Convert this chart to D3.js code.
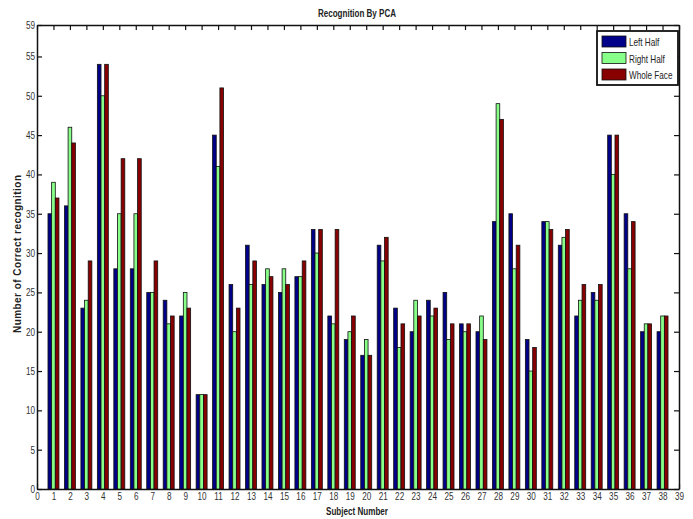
<!DOCTYPE html>
<html>
<head>
<meta charset="utf-8">
<script src="https://cdn.jsdelivr.net/npm/d3@7"></script>
<style>
body { margin: 0; background: #fff; }
text { font-family: "Liberation Sans", Arial, sans-serif; fill: #222; }
</style>
</head>
<body>
<svg id="chart" width="693" height="519"></svg>
<script>
var width = 693, height = 519;

// data
var subjects = d3.range(1, 39);
var leftHalf  = [35,36,23,54,28,28,25,24,22,12,45,26,31,26,25,27,33,22,19,17,31,23,20,24,25,21,20,34,35,19,34,31,22,25,45,35,20,20];
var rightHalf = [39,46,24,50,35,35,25,21,25,12,41,20,26,28,28,27,30,21,20,19,29,18,24,22,19,20,22,49,28,15,34,32,24,24,40,28,21,22];
var wholeFace = [37,44,29,54,42,42,29,22,23,12,51,23,29,27,26,29,33,33,22,17,32,21,22,23,21,21,19,47,31,18,33,33,26,26,45,34,21,22];
var seriesNames = ["Left Half", "Right Half", "Whole Face"];
var seriesColors = ["#000088", "#88ff88", "#880000"];
var xTicks = d3.range(0, 40);
var yTicks = [0,5,10,15,20,25,30,35,40,45,50,55,59];

var svg = d3.select("#chart");

var x = d3.scaleLinear().domain([0, 39]).range([37, 679]);
var y = d3.scaleLinear().domain([0, 59]).range([489, 25]);

var series = [leftHalf, rightHalf, wholeFace];
var bw = 0.222;

// axes (box with inward ticks), under the bars
var tl = 5;
svg.append("g").attr("transform", "translate(0," + y(0) + ")")
.call(d3.axisBottom(x).tickValues(xTicks).tickSizeInner(-tl).tickSizeOuter(0).tickPadding(3));
svg.append("g").attr("transform", "translate(0," + y(59) + ")")
.call(d3.axisTop(x).tickValues(xTicks).tickSizeInner(-tl).tickSizeOuter(0).tickFormat(""));
svg.append("g").attr("transform", "translate(" + x(0) + ",0)")
.call(d3.axisLeft(y).tickValues(yTicks).tickSizeInner(-tl).tickSizeOuter(0).tickPadding(2));
svg.append("g").attr("transform", "translate(" + x(39) + ",0)")
.call(d3.axisRight(y).tickValues(yTicks).tickSizeInner(-tl).tickSizeOuter(0).tickFormat(""));

svg.selectAll(".domain").style("stroke", "#111").style("stroke-width", 1.5);
svg.selectAll(".tick line").style("stroke", "#111").style("stroke-width", 1.2);
svg.selectAll("g").attr("font-family", null).attr("font-size", null);
svg.selectAll(".tick text").attr("font-size", "11px").style("fill", "#333").classed("narrow", true);

// bars
series.forEach(function (vals, k) {
  svg.append("g")
  .selectAll("rect")
  .data(vals)
  .enter().append("rect")
  .attr("x", function (d, i) { return x(subjects[i] + (k - 1.5) * bw); })
  .attr("y", function (d) { return y(d); })
  .attr("width", x(bw) - x(0))
  .attr("height", function (d) { return y(0) - y(d); })
  .style("fill", seriesColors[k])
  .style("stroke", "#111")
  .style("stroke-width", 0.8);
});

// titles
svg.append("text")
.attr("x", 357).attr("y", 17)
.attr("text-anchor", "middle")
.attr("font-size", "11px").attr("font-weight", "bold")
.attr("textLength", 78).attr("lengthAdjust", "spacingAndGlyphs")
.text("Recognition By PCA");

svg.append("text")
.attr("x", 357).attr("y", 515)
.attr("text-anchor", "middle")
.attr("font-size", "11px").attr("font-weight", "bold")
.attr("textLength", 62).attr("lengthAdjust", "spacingAndGlyphs")
.text("Subject Number");

svg.append("text")
.attr("transform", "translate(21,254) rotate(-90)")
.attr("text-anchor", "middle")
.attr("font-size", "10px").attr("font-weight", "bold")
.attr("textLength", 158).attr("lengthAdjust", "spacing")
.text("Number of Correct recognition");

// legend
var lg = svg.append("g").attr("transform", "translate(597,31)");
lg.append("rect")
.attr("width", 81).attr("height", 54)
.style("fill", "#fff").style("stroke", "#111").style("stroke-width", 1.8);
var item = lg.selectAll("g.item")
.data(seriesNames)
.enter().append("g")
.attr("class", "item")
.attr("transform", function (d, i) { return "translate(5," + (5 + i * 16.5) + ")"; });
item.append("rect")
.attr("width", 24).attr("height", 11)
.style("fill", function (d, i) { return seriesColors[i]; })
.style("stroke", "#111").style("stroke-width", 0.8);
item.append("text")
.attr("x", 27).attr("y", 10)
.attr("font-size", "11px")
.classed("narrow", true)
.text(function (d) { return d; });

// squeeze the plain texts like the condensed font of the original
svg.selectAll("text.narrow").each(function () {
  var l = this.getComputedTextLength();
  this.setAttribute("textLength", l * 0.74);
  this.setAttribute("lengthAdjust", "spacingAndGlyphs");
});
</script>
</body>
</html>
